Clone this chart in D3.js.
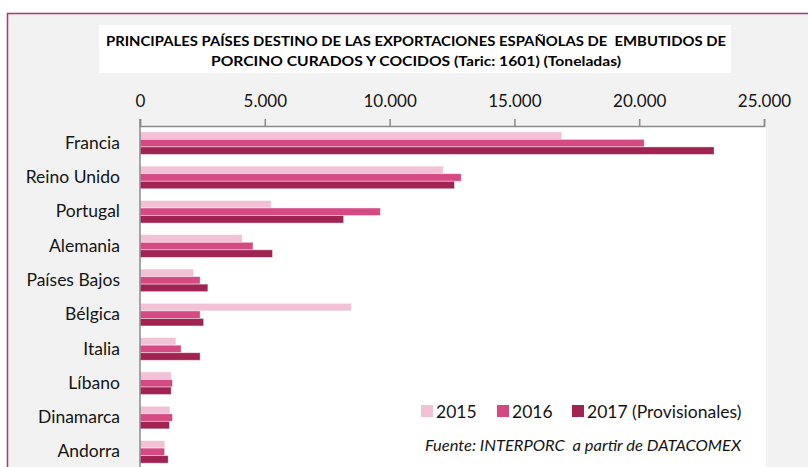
<!DOCTYPE html>
<html>
<head>
<meta charset="utf-8">
<script src="https://cdn.jsdelivr.net/npm/d3@7/dist/d3.min.js"></script>
<style>
  html, body { margin: 0; padding: 0; background: #ffffff; }
  svg { display: block; }
  text { font-family: Lato, "Open Sans", sans-serif; fill: #141414; }
</style>
</head>
<body>
<svg id="chart" width="808" height="467"></svg>
<script>
// Destination countries (top to bottom)
const countries = ["Francia", "Reino Unido", "Portugal", "Alemania", "Países Bajos",
                   "Bélgica", "Italia", "Líbano", "Dinamarca", "Andorra"];

// Series (tonnes)
const years = ["2015", "2016", "2017 (Provisionales)"];
const values2015 = [16900, 12150, 5260, 4100, 2150, 8470, 1440, 1250, 1200, 990];
const values2016 = [20200, 12870, 9630, 4530, 2410, 2410, 1650, 1300, 1300, 990];
const values2017 = [23000, 12600, 8160, 5310, 2720, 2550, 2410, 1250, 1180, 1130];

const xTicks = [0, 5000, 10000, 15000, 20000, 25000];
const colors = ["#f2c1d6", "#d64a84", "#a02352"];

const titleLines = [
  "PRINCIPALES PAÍSES DESTINO DE LAS EXPORTACIONES ESPAÑOLAS DE  EMBUTIDOS DE",
  "PORCINO CURADOS Y COCIDOS (Taric: 1601) (Toneladas)"
];
const sourceNote = "Fuente: INTERPORC  a partir de DATACOMEX";

const series = [values2015, values2016, values2017];

const svg = d3.select("#chart");

// Chart frame
svg.append("rect")
  .attr("x", 7.5).attr("y", 13.5)
  .attr("width", 900).attr("height", 500)
  .attr("fill", "#f2f2f2")
  .attr("stroke", "#b5336b")
  .attr("stroke-width", 1.5);

// Title box
svg.append("rect")
  .attr("x", 99).attr("y", 25)
  .attr("width", 632).attr("height", 48)
  .attr("fill", "#ffffff");

const titleWidths = [620, 410];
svg.selectAll("text.title")
  .data(titleLines)
  .join("text")
  .attr("class", "title")
  .attr("x", 416)
  .attr("y", (d, i) => 46 + i * 20)
  .attr("text-anchor", "middle")
  .attr("font-size", 14)
  .attr("font-weight", "bold")
  .attr("textLength", (d, i) => titleWidths[i])
  .attr("lengthAdjust", "spacingAndGlyphs")
  .style("white-space", "pre")
  .style("fill", "#000")
  .text(d => d);

// Scales
const x = d3.scaleLinear().domain([0, 25000]).range([140, 764]);
const y0 = d3.scaleBand().domain(countries).range([126, 469])
  .paddingInner(0.34).paddingOuter(0.17);
const y1 = d3.scaleBand().domain(years).range([0, y0.bandwidth()]);

// Plot area
svg.append("rect")
  .attr("x", x(0)).attr("y", 126)
  .attr("width", 626).attr("height", 360)
  .attr("fill", "#ffffff");

// Bars
const esLocale = d3.formatLocale({ decimal: ",", thousands: ".", grouping: [3], currency: ["", " €"] });
const fmt = esLocale.format(",d");

const groups = svg.append("g")
  .selectAll("g")
  .data(countries)
  .join("g")
  .attr("transform", d => `translate(0,${y0(d)})`);

groups.selectAll("rect")
  .data((c, ci) => years.map((yr, si) => ({ yr, si, v: series[si][ci] })))
  .join("rect")
  .attr("x", x(0))
  .attr("y", d => y1(d.yr))
  .attr("width", d => x(d.v) - x(0))
  .attr("height", y1.bandwidth())
  .attr("fill", d => colors[d.si])
  .attr("stroke", "#ffffff")
  .attr("stroke-opacity", 0.55)
  .attr("stroke-width", 0.8);

// Top value axis
const xAxis = svg.append("g")
  .attr("transform", "translate(0,126)")
  .call(d3.axisTop(x).tickValues(xTicks).tickFormat(fmt).tickSize(7).tickPadding(12));
xAxis.selectAll("path, line").attr("stroke", "#8a8a8a").attr("stroke-width", 1.5);
xAxis.selectAll("text")
  .attr("font-size", 17)
  .attr("font-family", "Lato, sans-serif")
  .style("fill", "#141414");

// Category axis
const yAxis = svg.append("g")
  .attr("transform", `translate(${x(0)},0)`)
  .call(d3.axisLeft(y0).tickSize(0).tickPadding(20));
yAxis.select(".domain").attr("stroke", "#8a8a8a").attr("stroke-width", 1.5)
  .attr("d", "M0,119V470");
yAxis.selectAll("text")
  .attr("font-size", 17.5)
  .attr("font-family", "Lato, sans-serif")
  .style("fill", "#141414");

// Legend
const legendX = [421, 497, 572];
const legend = svg.append("g")
  .selectAll("g")
  .data(years)
  .join("g")
  .attr("transform", (d, i) => `translate(${legendX[i]},405)`);
legend.append("rect")
  .attr("width", 12).attr("height", 12)
  .attr("fill", (d, i) => colors[i]);
legend.append("text")
  .attr("x", 15).attr("y", 12.5)
  .attr("font-size", 17.5)
  .text(d => d);

// Source note
svg.append("text")
  .attr("x", 425).attr("y", 451)
  .attr("font-size", 15)
  .attr("font-style", "italic")
  .attr("textLength", 316)
  .attr("lengthAdjust", "spacingAndGlyphs")
  .style("white-space", "pre")
  .text(sourceNote);
</script>
</body>
</html>
